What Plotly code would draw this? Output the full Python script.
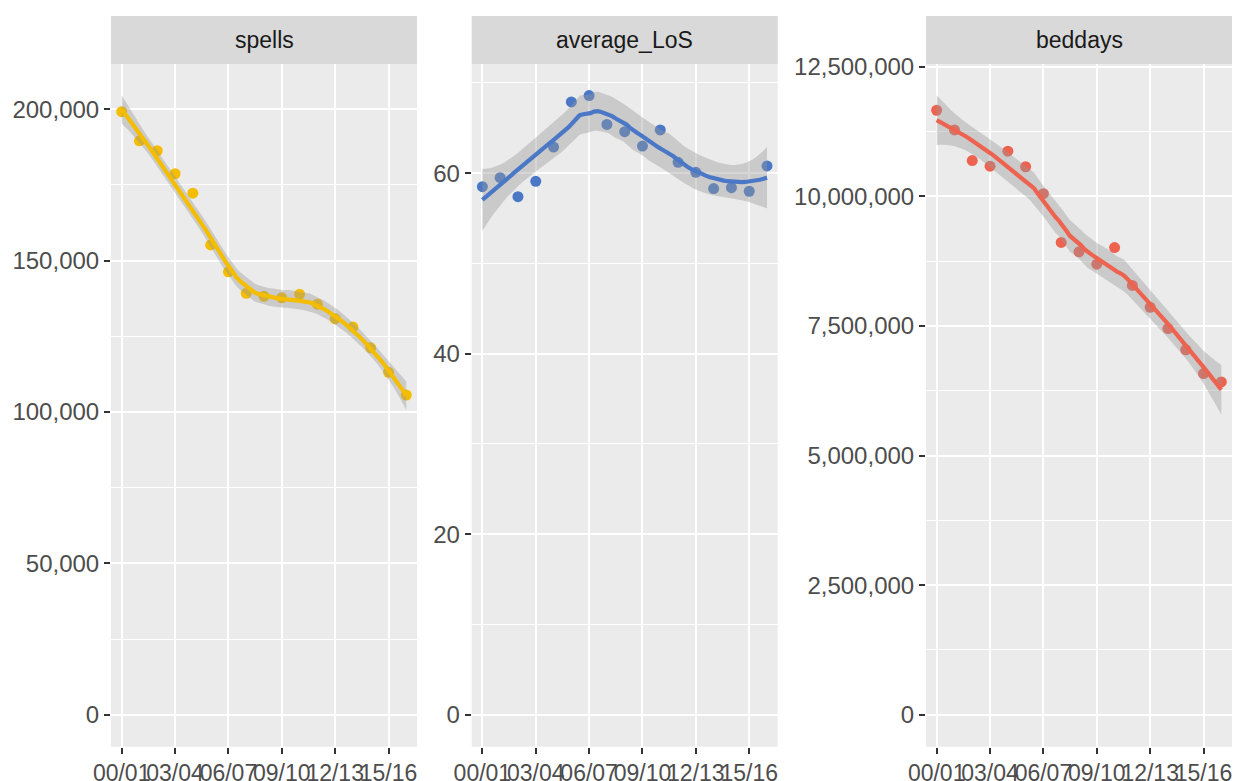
import numpy as np
import plotly.graph_objects as go

# financial years on the x axis
years = ["00/01", "01/02", "02/03", "03/04", "04/05", "05/06", "06/07", "07/08", "08/09",
         "09/10", "10/11", "11/12", "12/13", "13/14", "14/15", "15/16", "16/17"]
tick_labels = ["00/01", "03/04", "06/07", "09/10", "12/13", "15/16"]

spells = [199200, 189600, 186300, 178700, 172300, 155200, 146300, 139200, 138200,
          137700, 138900, 135600, 130800, 128100, 121200, 113100, 105600]
average_LoS = [58.5, 59.5, 57.4, 59.1, 62.9, 67.9, 68.6, 65.4, 64.6,
               63.0, 64.8, 61.2, 60.1, 58.3, 58.4, 58.0, 60.8]
beddays = [11660000, 11280000, 10690000, 10580000, 10870000, 10570000, 10050000, 9110000, 8930000,
           8690000, 9010000, 8280000, 7860000, 7450000, 7040000, 6580000, 6420000]


def loess(x, y, xs, span=0.75):
    # local quadratic fit with tricube weights (like R's loess) plus 95% band
    n = len(x)
    q = int(np.floor(n * span))

    def row(x0):
        d = np.abs(x - x0)
        h = np.sort(d)[q - 1]
        w = np.clip(1 - (d / h) ** 3, 0, None) ** 3
        X = np.vstack([np.ones(n), x - x0, (x - x0) ** 2]).T
        XtW = X.T * w
        return np.linalg.solve(XtW @ X, XtW)[0]

    L = np.array([row(v) for v in x])
    res = y - L @ y
    IL = np.eye(n) - L
    D = IL.T @ IL
    d1, d2 = np.trace(D), np.trace(D @ D)
    sigma = np.sqrt(np.sum(res ** 2) / d1)
    df = d1 ** 2 / d2
    z = 1.959964
    t = (z + (z**3 + z) / 4 / df + (5*z**5 + 16*z**3 + 3*z) / 96 / df**2
         + (3*z**7 + 19*z**5 + 17*z**3 - 15*z) / 384 / df**3)
    Ls = np.array([row(v) for v in xs])
    fit = Ls @ y
    se = sigma * np.sqrt(np.sum(Ls ** 2, axis=1))
    return fit, fit - t * se, fit + t * se


panels = [
    dict(name="spells", values=spells, color="#F5BD00", rng=[-10570, 214960], dtick=50000),
    dict(name="average_LoS", values=average_LoS, color="#4A78C6", rng=[-3.55, 72.1], dtick=20),
    dict(name="beddays", values=beddays, color="#EE6250", rng=[-617000, 12552000], dtick=2500000),
]
domains = [[111 / 1234, 417 / 1234], [471.7 / 1234, 777.7 / 1234], [926 / 1234, 1232 / 1234]]
ydom = [1 - 746.7 / 781, 1 - 64 / 781]

x = np.arange(len(years), dtype=float)
xs = np.linspace(x[0], x[-1], 80)
tickvals = [years.index(t) for t in tick_labels]

fig = go.Figure()
font = "Liberation Sans, Arial, sans-serif"
shapes = []
annotations = []
for i, p in enumerate(panels):
    sfx = "" if i == 0 else str(i + 1)
    y = np.array(p["values"], dtype=float)
    fit, lo, hi = loess(x, y, xs)
    fig.add_trace(go.Scatter(x=x, y=y, mode="markers", xaxis="x" + sfx, yaxis="y" + sfx,
                             marker=dict(size=11, color=p["color"]), hoverinfo="skip"))
    fig.add_trace(go.Scatter(x=np.concatenate([xs, xs[::-1]]), y=np.concatenate([hi, lo[::-1]]),
                             fill="toself", fillcolor="rgba(153,153,153,0.4)", mode="lines",
                             line=dict(width=0), xaxis="x" + sfx, yaxis="y" + sfx, hoverinfo="skip"))
    fig.add_trace(go.Scatter(x=xs, y=fit, mode="lines", line=dict(color=p["color"], width=4.2),
                             xaxis="x" + sfx, yaxis="y" + sfx, hoverinfo="skip"))

    fig.layout["xaxis" + sfx] = dict(
        domain=domains[i], anchor="y" + sfx, range=[-0.6, 16.6], tickvals=tickvals, ticktext=tick_labels,
        tickangle=0, showgrid=True, gridcolor="white", gridwidth=2.2, zeroline=False, showline=False,
        ticks="outside", ticklen=6, tickwidth=2, tickcolor="#333333",
        tickfont=dict(family=font, size=23, color="#4D4D4D"), automargin=False)
    fig.layout["yaxis" + sfx] = dict(
        domain=ydom, anchor="x" + sfx, range=p["rng"], dtick=p["dtick"], tick0=0, tickformat=",d",
        showgrid=True, gridcolor="white", gridwidth=2.2, zeroline=False, showline=False,
        minor=dict(dtick=p["dtick"] / 2, tick0=0, showgrid=True, gridcolor="white", gridwidth=1.1),
        ticks="outside", ticklen=6, tickwidth=2, tickcolor="#333333",
        tickfont=dict(family=font, size=24, color="#4D4D4D"), automargin=False)

    shapes.append(dict(type="rect", xref="paper", yref="paper", x0=domains[i][0], x1=domains[i][1],
                       y0=ydom[1], y1=1 - 16 / 781, fillcolor="#D9D9D9", line=dict(width=0), layer="below"))
    shapes.append(dict(type="rect", xref="paper", yref="paper", x0=domains[i][0], x1=domains[i][1],
                       y0=ydom[0], y1=ydom[1], fillcolor="#EBEBEB", line=dict(width=0), layer="below"))
    annotations.append(dict(text=p["name"], xref="paper", yref="paper", x=sum(domains[i]) / 2,
                            y=1 - 40 / 781, showarrow=False, xanchor="center", yanchor="middle",
                            font=dict(family=font, size=23, color="#1A1A1A")))

fig.update_layout(width=1234, height=781, margin=dict(l=0, r=0, t=0, b=0),
                  paper_bgcolor="white", plot_bgcolor="rgba(0,0,0,0)", showlegend=False,
                  shapes=shapes, annotations=annotations)
fig.write_html("out.html", config={"displayModeBar": False},
               post_script="document.body.style.margin='0px';")
